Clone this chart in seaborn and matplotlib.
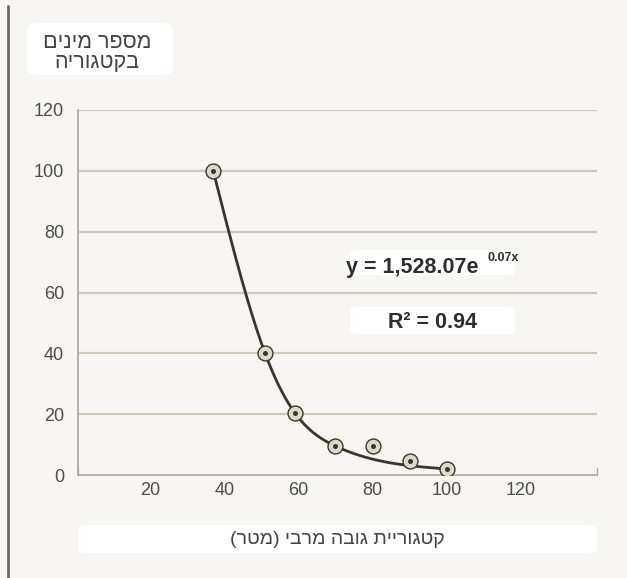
import numpy as np
import pandas as pd
import matplotlib
matplotlib.use("Agg")
import matplotlib.pyplot as plt
from matplotlib.patches import FancyBboxPatch
from matplotlib.lines import Line2D
import seaborn as sns

# Data: maximum height category (m) vs. number of species in the category
height_category = [37, 51, 59, 70, 80, 90, 100]
species_count = [100, 40, 20.5, 9.5, 9.5, 4.5, 2]
# points the smoothed trend line is threaded through
on_trend = [True, True, True, True, False, False, True]

x_ticks = [20, 40, 60, 80, 100, 120]
y_ticks = [0, 20, 40, 60, 80, 100, 120]

y_label_lines = ["מספר מינים", "בקטגוריה"]
x_label = "קטגוריית גובה מרבי (מטר)"
equation_main = "y = 1,528.07e"
equation_exp = "0.07x"
r_squared = "R² = 0.94"

BG = "#f7f6f2"
GRID = "#cfcab7"
SPINE = "#b0ac9f"
INK = "#38372f"
TEXT = "#444444"
TICK_TEXT = "#4d4d4d"


def rtl(s):
    """Hebrew text in visual (left-to-right drawing) order."""
    swap = {"(": ")", ")": "("}
    return "".join(swap.get(c, c) for c in reversed(s))


def natural_spline(xk, yk, xs):
    """Natural cubic spline through knots (xk, yk), evaluated at xs."""
    xk = np.asarray(xk, float)
    yk = np.asarray(yk, float)
    n = len(xk)
    h = np.diff(xk)
    A = np.zeros((n, n))
    b = np.zeros(n)
    A[0, 0] = A[-1, -1] = 1.0
    for i in range(1, n - 1):
        A[i, i - 1] = h[i - 1]
        A[i, i] = 2 * (h[i - 1] + h[i])
        A[i, i + 1] = h[i]
        b[i] = 6 * ((yk[i + 1] - yk[i]) / h[i] - (yk[i] - yk[i - 1]) / h[i - 1])
    M = np.linalg.solve(A, b)
    idx = np.clip(np.searchsorted(xk, xs) - 1, 0, n - 2)
    x0, x1 = xk[idx], xk[idx + 1]
    hh = x1 - x0
    return (M[idx] * (x1 - xs) ** 3 / (6 * hh) + M[idx + 1] * (xs - x0) ** 3 / (6 * hh)
            + (yk[idx] / hh - M[idx] * hh / 6) * (x1 - xs)
            + (yk[idx + 1] / hh - M[idx + 1] * hh / 6) * (xs - x0))


sns.set_theme(style="white")
plt.rcParams["font.family"] = ["Liberation Sans", "DejaVu Sans"]

W, H = 627, 578
fig = plt.figure(figsize=(W / 100, H / 100), dpi=100, facecolor=BG)


def fx(px):
    return px / W


def fy(py):
    return 1 - py / H


ax = fig.add_axes([fx(78), fy(475), fx(597) - fx(78), fy(110) - fy(475)])
ax.set_facecolor(BG)

df = pd.DataFrame({"height": height_category, "species": species_count, "trend": on_trend})
knots = df[df["trend"]]
xs = np.linspace(min(height_category), max(height_category), 300)
trend = pd.DataFrame({"height": xs,
                      "species": natural_spline(knots["height"], knots["species"], xs)})

for yv in y_ticks[1:]:
    ax.axhline(yv, color=GRID, lw=1.6, zorder=0)

sns.lineplot(data=trend, x="height", y="species", ax=ax, color=INK, lw=2.0, zorder=3)
sns.scatterplot(data=df, x="height", y="species", ax=ax, s=115, color="#ddd8c8",
                edgecolor=INK, linewidth=1.0, zorder=4)
sns.scatterplot(data=df, x="height", y="species", ax=ax, s=13, color=INK,
                edgecolor=INK, linewidth=0, zorder=5)

ax.set_xlim(0.5, 140.6)
ax.set_ylim(0, 120)
ax.set_xticks(x_ticks)
ax.set_yticks(y_ticks)
ax.set_xlabel("")
ax.set_ylabel("")
ax.tick_params(axis="both", direction="in", length=7, width=1, color=SPINE,
               labelsize=13, labelcolor=TICK_TEXT)
ax.tick_params(axis="x", pad=5)
ax.tick_params(axis="y", pad=10)
for side in ["top", "right"]:
    ax.spines[side].set_visible(False)
for side in ["left", "bottom"]:
    ax.spines[side].set_color(SPINE)
    ax.spines[side].set_linewidth(1.3)
ax.grid(False)

# end ticks on the x axis
for xv in [0.5, 140.6]:
    ax.plot([xv, xv], [0, 2.3], color=SPINE, lw=1, clip_on=False, zorder=2)

# left frame line
fig.add_artist(Line2D([fx(8), fx(8)], [fy(6), fy(578)], color="#6f6b60", lw=2))


def box(x0, y0, x1, y1, r=6):
    p = FancyBboxPatch((x0, H - y1), x1 - x0, y1 - y0,
                       boxstyle=f"round,pad=0,rounding_size={r}",
                       transform=None, facecolor="white", edgecolor="none", zorder=6)
    fig.add_artist(p)


# y axis title
box(27, 23, 173, 75, r=8)
fig.text(fx(97), fy(43), rtl(y_label_lines[0]), ha="center", va="center",
         fontsize=15.5, color=TEXT, zorder=7)
fig.text(fx(97), fy(62), rtl(y_label_lines[1]), ha="center", va="center",
         fontsize=15.5, color=TEXT, zorder=7)

# x axis title
box(78, 525, 597, 553, r=6)
fig.text(fx(337), fy(539), rtl(x_label), ha="center", va="center",
         fontsize=14, color=TEXT, zorder=7)

# fitted equation and R²
box(350, 250, 515, 275, r=4)
fig.text(fx(346), fy(267), equation_main, ha="left", va="center",
         fontsize=15.5, fontweight="bold", color="#2e2e2e", zorder=7)
fig.text(fx(487), fy(258), equation_exp, ha="left", va="center",
         fontsize=9, fontweight="bold", color="#2e2e2e", zorder=7)

box(350, 307, 515, 334, r=4)
fig.text(fx(432), fy(322), r_squared, ha="center", va="center",
         fontsize=15.5, fontweight="bold", color="#2e2e2e", zorder=7)

fig.savefig("out.png", dpi=100, facecolor=BG)
